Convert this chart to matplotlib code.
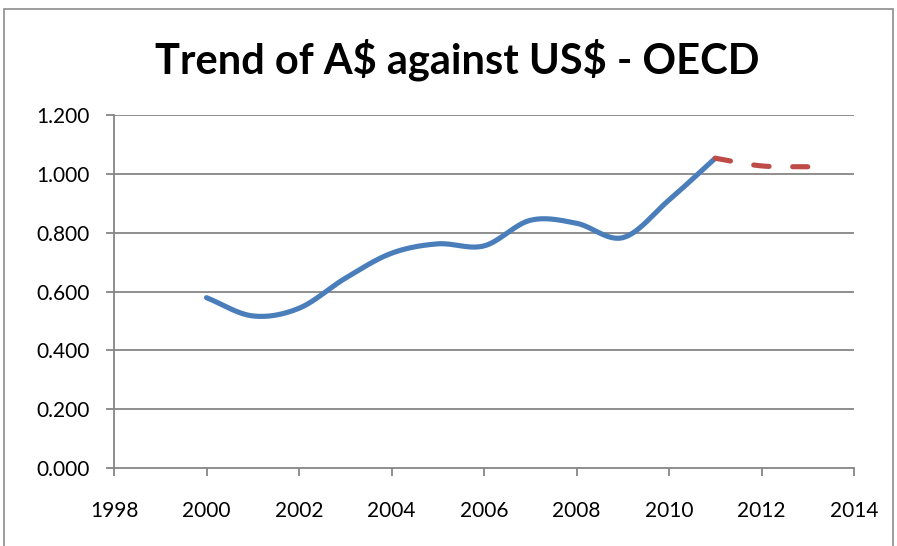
import matplotlib
matplotlib.use("Agg")
import matplotlib.pyplot as plt
from matplotlib.patches import Rectangle
import numpy as np

plt.rcParams['font.family'] = ['Liberation Sans Narrow', 'Lato', 'DejaVu Sans']

# data
years_hist = [2000, 2001, 2002, 2003, 2004, 2005, 2006, 2007, 2008, 2009, 2010, 2011]
rate_hist = [0.579, 0.517, 0.543, 0.645, 0.730, 0.762, 0.755, 0.842, 0.832, 0.783, 0.911, 1.053]
years_fcst = [2011, 2012, 2013]
rate_fcst = [1.053, 1.027, 1.024]

x_ticks = [1998, 2000, 2002, 2004, 2006, 2008, 2010, 2012, 2014]
y_ticks = [0.0, 0.2, 0.4, 0.6, 0.8, 1.0, 1.2]


def smooth(xs, ys, n=30):
    # Catmull-Rom style smoothing like Excel's "smoothed line"
    xs = np.asarray(xs, float)
    ys = np.asarray(ys, float)
    px = np.concatenate([[2 * xs[0] - xs[1]], xs, [2 * xs[-1] - xs[-2]]])
    py = np.concatenate([[2 * ys[0] - ys[1]], ys, [2 * ys[-1] - ys[-2]]])
    outx, outy = [], []
    t = np.linspace(0, 1, n)
    for i in range(1, len(px) - 2):
        for p, out in ((px, outx), (py, outy)):
            p0, p1, p2, p3 = p[i - 1], p[i], p[i + 1], p[i + 2]
            c1 = p1 + (p2 - p0) / 6
            c2 = p2 - (p3 - p1) / 6
            out.extend((1 - t) ** 3 * p1 + 3 * (1 - t) ** 2 * t * c1 + 3 * (1 - t) * t ** 2 * c2 + t ** 3 * p2)
    return outx, outy


fig = plt.figure(figsize=(8.97, 5.46), dpi=100)
fig.patches.append(Rectangle((4 / 897, -0.1), 889 / 897, 1.1 - 9 / 546, transform=fig.transFigure,
                             fill=False, edgecolor='#8c8c8c', linewidth=1.2))
ax = fig.add_axes([114 / 897, 1 - 468 / 546, 740 / 897, 353 / 546])

grid_c = '#868686'
for y in y_ticks[1:]:
    ax.axhline(y, color=grid_c, linewidth=1.3, zorder=1)

hx, hy = smooth(years_hist, rate_hist)
ax.plot(hx, hy, color='#4a7ebb', linewidth=3.7, solid_capstyle='round', zorder=3)
fx, fy = smooth(years_fcst, rate_fcst)
ax.plot(fx, fy, color='#be4b48', linewidth=3.7, dashes=(3.0, 4.6), dash_capstyle='round', zorder=3)

ax.set_xlim(1998, 2014)
ax.set_ylim(0, 1.2)
ax.set_xticks(x_ticks)
ax.set_yticks(y_ticks)
ax.set_yticklabels([f'{v:.3f}' for v in y_ticks])
for s in ['top', 'right']:
    ax.spines[s].set_visible(False)
for s in ['left', 'bottom']:
    ax.spines[s].set_color(grid_c)
    ax.spines[s].set_linewidth(1.3)
ax.tick_params(axis='both', color=grid_c, width=1.3, length=5.8, labelsize=15, labelcolor='black')
ax.tick_params(axis='x', pad=18)
ax.tick_params(axis='y', pad=12)

fig.text(457 / 897, 1 - 60 / 546, r'Trend of A\$ against US\$ - OECD', ha='center', va='center',
         fontsize=30, fontweight='bold')

fig.savefig('out.png', dpi=100)
